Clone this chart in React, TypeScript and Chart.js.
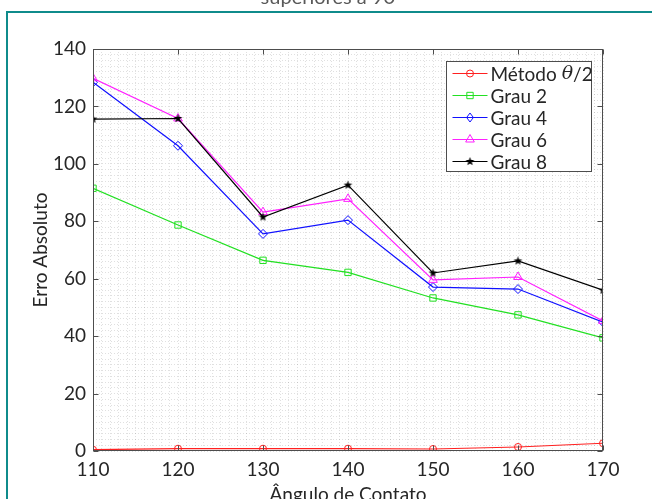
import { useEffect, useRef } from 'react';
import { Chart, registerables } from 'chart.js';
Chart.register(...registerables);

const angles = [110, 120, 130, 140, 150, 160, 170];
const metodo = [0.45, 0.8, 0.8, 0.8, 0.7, 1.4, 2.7];
const grau2 = [91.5, 78.7, 66.4, 62.2, 53.3, 47.4, 39.4];
const grau4 = [128.4, 106.3, 75.6, 80.4, 57.1, 56.4, 44.9];
const grau6 = [129.8, 115.8, 83.2, 87.8, 59.6, 60.6, 45.3];
const grau8 = [115.6, 115.8, 81.5, 92.6, 62.0, 66.2, 56.0];
const seriesNames = ['Grau 2', 'Grau 4', 'Grau 6', 'Grau 8'];
const xMajor = [110, 120, 130, 140, 150, 160, 170];
const yMajor = [0, 20, 40, 60, 80, 100, 120, 140];

const FONT = 'Lato, "Open Sans", sans-serif';
const TXT = '#262626';

function makeStar(color: string) {
  const c = document.createElement('canvas');
  c.width = 11; c.height = 11;
  const g = c.getContext('2d')!;
  g.fillStyle = color;
  g.beginPath();
  for (let i = 0; i < 10; i++) {
    const r = i % 2 === 0 ? 4.6 : 1.9;
    const a = -Math.PI / 2 + (i * Math.PI) / 5;
    const px = 5.5 + r * Math.cos(a), py = 5.5 + r * Math.sin(a);
    if (i === 0) g.moveTo(px, py); else g.lineTo(px, py);
  }
  g.closePath();
  g.fill();
  return c;
}

const pts = (vals: number[]) => angles.map((x, i) => ({ x, y: vals[i] }));

const decor = {
  id: 'decor',
  afterDraw(chart: any) {
    const { ctx, chartArea: a, scales } = chart;
    const L = Math.round(a.left) + 0.5, R = Math.round(a.right) - 0.5;
    const T = Math.round(a.top) + 0.5, B = Math.round(a.bottom) - 0.5;
    ctx.save();
    ctx.strokeStyle = '#4d4d4d';
    ctx.lineWidth = 1;
    ctx.strokeRect(L, T, R - L, B - T);
    ctx.beginPath();
    xMajor.forEach(v => {
      const px = Math.round(scales.x.getPixelForValue(v)) + 0.5;
      ctx.moveTo(px, B); ctx.lineTo(px, B - 5);
      ctx.moveTo(px, T); ctx.lineTo(px, T + 5);
    });
    yMajor.forEach(v => {
      const py = Math.round(scales.y.getPixelForValue(v)) + 0.5;
      ctx.moveTo(L, py); ctx.lineTo(L + 5, py);
      ctx.moveTo(R, py); ctx.lineTo(R - 5, py);
    });
    ctx.stroke();

    // legend
    const bx = Math.round(a.right) - 156.5, by = Math.round(a.top) + 12.5;
    const bw = 145, bh = 110;
    ctx.fillStyle = '#ffffff';
    ctx.fillRect(bx, by, bw, bh);
    ctx.strokeStyle = '#4d4d4d';
    ctx.strokeRect(bx, by, bw, bh);
    chart.data.datasets.forEach((d: any, i: number) => {
      const cy = by + 12 + i * 22;
      ctx.strokeStyle = d.borderColor;
      ctx.lineWidth = 1;
      ctx.beginPath();
      ctx.moveTo(bx + 6, cy); ctx.lineTo(bx + 41, cy);
      ctx.stroke();
      const mx = bx + 23.5;
      const ps = d.pointStyle;
      if (typeof ps !== 'string') {
        ctx.drawImage(ps, mx - ps.width / 2, cy - ps.height / 2);
      } else {
        ctx.beginPath();
        const r = d.pointRadius;
        if (ps === 'circle') ctx.arc(mx, cy, r, 0, Math.PI * 2);
        else if (ps === 'rect') { const s = r * Math.SQRT1_2; ctx.rect(mx - s, cy - s, 2 * s, 2 * s); }
        else if (ps === 'rectRot') { ctx.moveTo(mx, cy - r); ctx.lineTo(mx + r * 0.75, cy); ctx.lineTo(mx, cy + r); ctx.lineTo(mx - r * 0.75, cy); ctx.closePath(); }
        else if (ps === 'triangle') { ctx.moveTo(mx, cy - r); ctx.lineTo(mx + r * 0.87, cy + r * 0.5); ctx.lineTo(mx - r * 0.87, cy + r * 0.5); ctx.closePath(); }
        ctx.stroke();
      }
      ctx.fillStyle = TXT;
      ctx.textBaseline = 'middle';
      ctx.textAlign = 'left';
      let tx = bx + 44;
      const ty = cy + 1;
      ctx.font = `19px ${FONT}`;
      if (i === 0) {
        const parts = (d.label as string).split('θ');
        ctx.fillText(parts[0], tx, ty);
        tx += ctx.measureText(parts[0]).width;
        ctx.font = `italic 19px "DejaVu Serif", serif`;
        ctx.fillText('θ', tx, ty);
        tx += ctx.measureText('θ').width;
        ctx.font = `19px ${FONT}`;
        ctx.fillText(parts[1], tx, ty);
      } else {
        ctx.fillText(d.label, tx, ty);
      }
    });

    ctx.fillStyle = TXT;
    ctx.font = `19px ${FONT}`;
    ctx.textAlign = 'center';
    ctx.textBaseline = 'alphabetic';
    ctx.fillText('Ângulo de Contato', (a.left + a.right) / 2, 501);
    ctx.save();
    ctx.translate(47, (a.top + a.bottom) / 2);
    ctx.rotate(-Math.PI / 2);
    ctx.fillText('Erro Absoluto', 0, 0);
    ctx.restore();
    ctx.fillStyle = '#595959';
    ctx.font = `20px ${FONT}`;
    ctx.fillText('superiores a 90°', 332, 4);
    ctx.restore();
  },
};

export default function App() {
  const ref = useRef<HTMLCanvasElement>(null);
  useEffect(() => {
    document.body.style.margin = '0';
    const star = makeStar('#000000');
    const mk = (label: string, data: number[], color: string, ps: any, r: number, order: number) => ({
      label, data: pts(data), borderColor: color, backgroundColor: color,
      borderWidth: 1.2, pointStyle: ps, pointRadius: r, pointBorderWidth: 1,
      pointBorderColor: color, pointBackgroundColor: 'rgba(0,0,0,0)', order,
    });
    const datasets = [
      mk('Método θ/2', metodo, '#ff2020', 'circle', 3.5, 5),
      mk(seriesNames[0], grau2, '#22e022', 'rect', 4.5, 4),
      mk(seriesNames[1], grau4, '#1010ff', 'rectRot', 4.5, 3),
      mk(seriesNames[2], grau6, '#ff20ff', 'triangle', 5, 2),
      mk(seriesNames[3], grau8, '#000000', star, 4, 1),
    ];
    const gridOpts = { color: 'rgba(0,0,0,0.12)', lineWidth: 1, drawTicks: false };
    const chart = new Chart(ref.current!, {
      type: 'line',
      data: { datasets } as any,
      plugins: [decor],
      options: {
        animation: false,
        responsive: true,
        maintainAspectRatio: false,
        layout: { padding: { left: 0, top: 49, right: 49, bottom: 0 } },
        plugins: { legend: { display: false }, tooltip: { enabled: false } },
        scales: {
          x: {
            type: 'linear', min: 110, max: 170,
            afterFit: (s: any) => { s.height = 48; },
            grid: gridOpts,
            border: { display: false, dash: [1, 2] },
            ticks: {
              stepSize: 1, autoSkip: false, maxTicksLimit: 1000, maxRotation: 0, padding: 7,
              color: TXT, font: { family: FONT, size: 19 },
              callback: (v: any) => (xMajor.includes(Number(v)) ? String(v) : ''),
            },
          },
          y: {
            type: 'linear', min: 0, max: 140,
            afterFit: (s: any) => { s.width = 93; },
            grid: gridOpts,
            border: { display: false, dash: [1, 2] },
            ticks: {
              stepSize: 2, autoSkip: false, maxTicksLimit: 1000, padding: 7,
              color: TXT, font: { family: FONT, size: 19 },
              callback: (v: any) => (yMajor.includes(Number(v)) ? String(v) : ''),
            },
          },
        },
      } as any,
    });
    return () => chart.destroy();
  }, []);
  return (
    <div style={{ position: 'relative', width: 652, height: 499, overflow: 'hidden', background: '#fff' }}>
      <div style={{ position: 'absolute', left: 6, top: 11, width: 700, height: 600, border: '2px solid #0f8b8b', boxSizing: 'border-box' }} />
      <div style={{ position: 'absolute', left: 0, top: 0, width: 652, height: 499 }}>
        <canvas ref={ref} />
      </div>
    </div>
  );
}
